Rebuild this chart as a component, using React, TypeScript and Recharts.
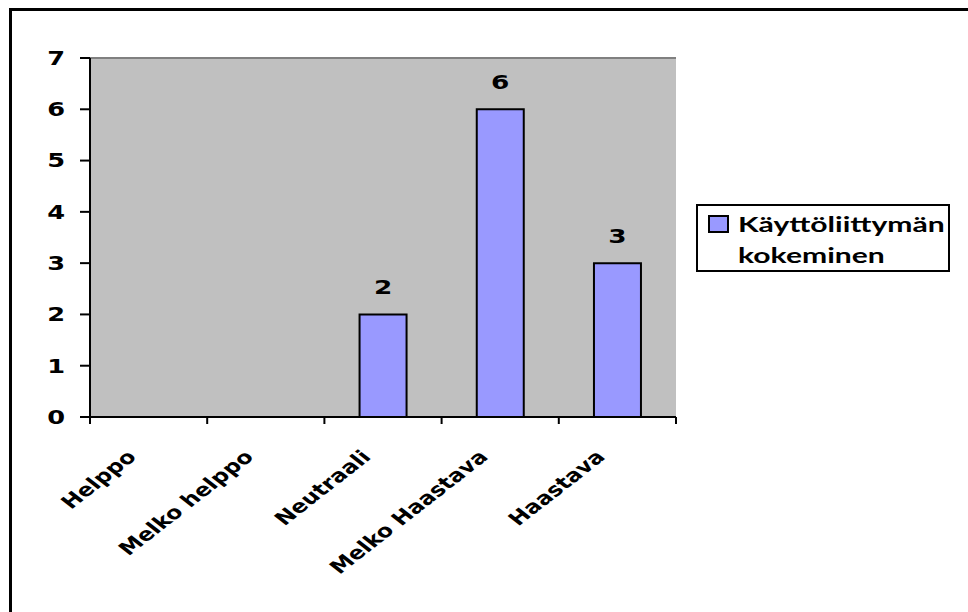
import { BarChart, Bar, XAxis, YAxis, CartesianGrid, ReferenceLine, LabelList } from "recharts";

const CATEGORIES = ["Helppo", "Melko helppo", "Neutraali", "Melko Haastava", "Haastava"];
const RESPONSES: (number | null)[] = [null, null, 2, 6, 3];
const Y_TICKS = [0, 1, 2, 3, 4, 5, 6, 7];
const LEGEND_LINES = ["Käyttöliittymän", "kokeminen"];

const BAR_FILL = "#9999FF";
const PLOT_FILL = "#C0C0C0";
const FRAME_GRAY = "#808080";
const AXIS_FONT = "'DejaVu Sans', Verdana, sans-serif";
const LEGEND_FONT = "Lato, 'Open Sans', sans-serif";
// glyphs are drawn a bit wider than tall
const STRETCH = 1.35;
const LABEL_STRETCH = 1.28;

const X_TICK_SIZE = 7;
const X_TICK_MARGIN = 38;

const data = CATEGORIES.map((name, i) => ({ name, value: RESPONSES[i] }));

function CategoryTick(props: any) {
  const { x, y, payload, index, visibleTicksCount } = props;
  const half = payload?.offset ?? 0;
  const axisY = y - X_TICK_SIZE - X_TICK_MARGIN;
  const isLast = index === visibleTicksCount - 1;
  return (
    <g>
      <line x1={x - half} x2={x - half} y1={axisY} y2={axisY + X_TICK_SIZE} stroke="#000" strokeWidth={2} />
      {isLast && (
        <line x1={x + half} x2={x + half} y1={axisY} y2={axisY + X_TICK_SIZE} stroke="#000" strokeWidth={2} />
      )}
      <g transform={`translate(${x - 11},${y - 4}) scale(${LABEL_STRETCH},1) rotate(-45)`}>
        <text textAnchor="end" fontFamily={AXIS_FONT} fontWeight="bold" fontSize={18.5} fill="#000">
          {payload.value}
        </text>
      </g>
    </g>
  );
}

function ValueTick(props: any) {
  const { x, y, payload } = props;
  return (
    <g transform={`translate(${x},${y}) scale(${STRETCH},1)`}>
      <text textAnchor="end" dy="0.36em" fontFamily={AXIS_FONT} fontWeight="bold" fontSize={19} fill="#000">
        {payload.value}
      </text>
    </g>
  );
}

function ValueLabel(props: any) {
  const { x, y, width, value } = props;
  if (value == null) return null;
  return (
    <g transform={`translate(${x + width / 2},${y - 20}) scale(${STRETCH},1)`}>
      <text textAnchor="middle" fontFamily={AXIS_FONT} fontWeight="bold" fontSize={19.5} fill="#000">
        {value}
      </text>
    </g>
  );
}

export default function App() {
  return (
    <div
      style={{
        position: "absolute",
        left: 0,
        top: 0,
        width: 968,
        height: 612,
        overflow: "hidden",
        background: "#fff",
      }}
    >
      <div
        style={{
          position: "absolute",
          left: 9,
          top: 8,
          width: 1000,
          height: 700,
          borderTop: "3px solid #000",
          borderLeft: "3px solid #000",
        }}
      />
      <div style={{ position: "absolute", left: 0, top: 0 }}>
        <BarChart
          width={968}
          height={612}
          data={data}
          margin={{ top: 58, right: 292, bottom: 0, left: 0 }}
          barCategoryGap="30%"
        >
          <CartesianGrid horizontal={false} vertical={false} fill={PLOT_FILL} />
          <ReferenceLine y={7} stroke={FRAME_GRAY} strokeWidth={2} />
          <XAxis
            dataKey="name"
            interval={0}
            height={195}
            tickSize={X_TICK_SIZE}
            tickMargin={X_TICK_MARGIN}
            tickLine={false}
            axisLine={{ stroke: "#000", strokeWidth: 2 }}
            tick={<CategoryTick />}
          />
          <YAxis
            width={90}
            domain={[0, 7]}
            ticks={Y_TICKS}
            interval={0}
            tickSize={10}
            tickMargin={15}
            axisLine={{ stroke: "#000", strokeWidth: 2 }}
            tickLine={{ stroke: "#000", strokeWidth: 2 }}
            tick={<ValueTick />}
          />
          <YAxis
            yAxisId="frame"
            orientation="right"
            width={0}
            domain={[0, 7]}
            tick={false}
            tickLine={false}
            axisLine={{ stroke: FRAME_GRAY, strokeWidth: 2 }}
          />
          <Bar dataKey="value" fill={BAR_FILL} stroke="#000" strokeWidth={2} isAnimationActive={false}>
            <LabelList dataKey="value" content={<ValueLabel />} />
          </Bar>
        </BarChart>
      </div>
      <svg
        width={968}
        height={612}
        style={{ position: "absolute", left: 0, top: 0, pointerEvents: "none" }}
      >
        <rect x={697} y={205} width={252} height={66} fill="#fff" stroke="#000" strokeWidth={2} />
        <rect x={709} y={216} width={19} height={16} fill={BAR_FILL} stroke="#000" strokeWidth={2} />
        {LEGEND_LINES.map((line, i) => (
          <text
            key={line}
            transform={`translate(738,${232 + i * 31}) scale(1.4,1)`}
            fontFamily={LEGEND_FONT}
            fontWeight="bold"
            fontSize={21.5}
            fill="#000"
          >
            {line}
          </text>
        ))}
      </svg>
    </div>
  );
}
